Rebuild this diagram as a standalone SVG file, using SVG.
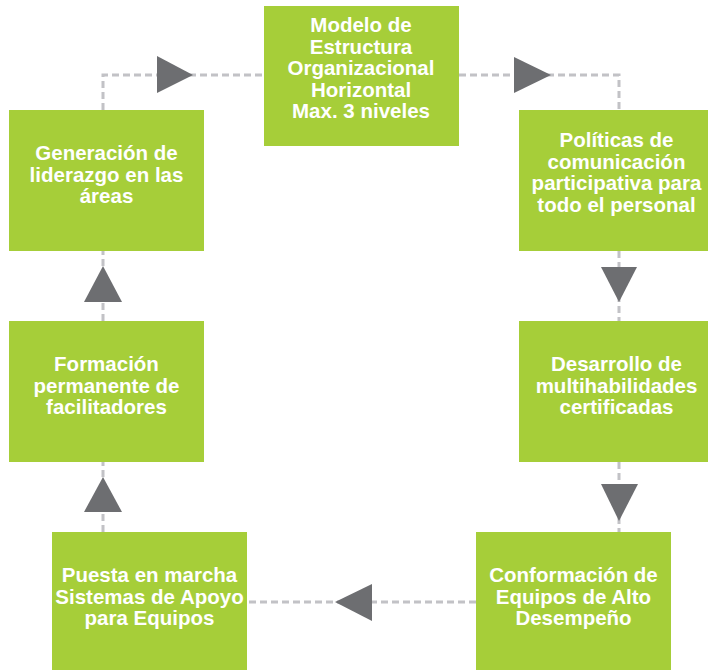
<svg xmlns="http://www.w3.org/2000/svg" width="708" height="670" viewBox="0 0 708 670">
<style>
.box{fill:#a6ce39}
.t{font-family:"Liberation Sans",Arial,Helvetica,sans-serif;font-weight:bold;font-size:20.5px;fill:#ffffff;text-anchor:middle}
.dash{fill:none;stroke:#c2c2c6;stroke-width:3;stroke-dasharray:7 4}
.arr{fill:#6d6e71}
</style>
<rect width="708" height="670" fill="#ffffff"/>
<g id="connectors">
<polyline class="dash" points="103,110 103,75 264,75"/>
<polyline class="dash" points="459,75 619,75 619,110"/>
<line class="dash" x1="619" y1="251" x2="619" y2="321"/>
<line class="dash" x1="619" y1="462" x2="619" y2="532"/>
<line class="dash" x1="476" y1="602" x2="247" y2="602"/>
<line class="dash" x1="103" y1="532" x2="103" y2="462"/>
<line class="dash" x1="103" y1="321" x2="103" y2="251"/>
<polygon class="arr" points="157,56 157,93 193,75"/>
<polygon class="arr" points="514,57 514,93 551,75"/>
<polygon class="arr" points="601,267 637,267 619,302"/>
<polygon class="arr" points="601,484 638,484 619,521"/>
<polygon class="arr" points="372,584 372,621 335,602"/>
<polygon class="arr" points="84,512 122,512 103,477"/>
<polygon class="arr" points="84,302 122,302 103,266"/>
</g>
<g id="n1">
<rect class="box" x="264" y="6" width="195" height="140"/>
<text class="t"><tspan x="361" y="32">Modelo de</tspan><tspan x="361" y="53.5">Estructura</tspan><tspan x="361" y="75">Organizacional</tspan><tspan x="361" y="96.5">Horizontal</tspan><tspan x="361" y="118">Max. 3 niveles</tspan></text>
</g>
<g id="n2">
<rect class="box" x="519" y="110" width="195" height="141"/>
<text class="t"><tspan x="616.5" y="147">Políticas de</tspan><tspan x="616.5" y="168.5">comunicación</tspan><tspan x="616.5" y="190">participativa para</tspan><tspan x="616.5" y="211.5">todo el personal</tspan></text>
</g>
<g id="n3">
<rect class="box" x="519" y="321" width="195" height="141"/>
<text class="t"><tspan x="616.5" y="371">Desarrollo de</tspan><tspan x="616.5" y="392.5">multihabilidades</tspan><tspan x="616.5" y="414">certificadas</tspan></text>
</g>
<g id="n4">
<rect class="box" x="476" y="532" width="195" height="138"/>
<text class="t"><tspan x="573.5" y="582">Conformación de</tspan><tspan x="573.5" y="603.5">Equipos de Alto</tspan><tspan x="573.5" y="625">Desempeño</tspan></text>
</g>
<g id="n5">
<rect class="box" x="52" y="532" width="195" height="138"/>
<text class="t"><tspan x="149.5" y="582">Puesta en marcha</tspan><tspan x="149.5" y="603.5">Sistemas de Apoyo</tspan><tspan x="149.5" y="625">para Equipos</tspan></text>
</g>
<g id="n6">
<rect class="box" x="9" y="321" width="195" height="141"/>
<text class="t"><tspan x="106.5" y="371">Formación</tspan><tspan x="106.5" y="392.5">permanente de</tspan><tspan x="106.5" y="414">facilitadores</tspan></text>
</g>
<g id="n7">
<rect class="box" x="9" y="110" width="195" height="141"/>
<text class="t"><tspan x="106.5" y="160">Generación de</tspan><tspan x="106.5" y="181.5">liderazgo en las</tspan><tspan x="106.5" y="203">áreas</tspan></text>
</g>
</svg>
